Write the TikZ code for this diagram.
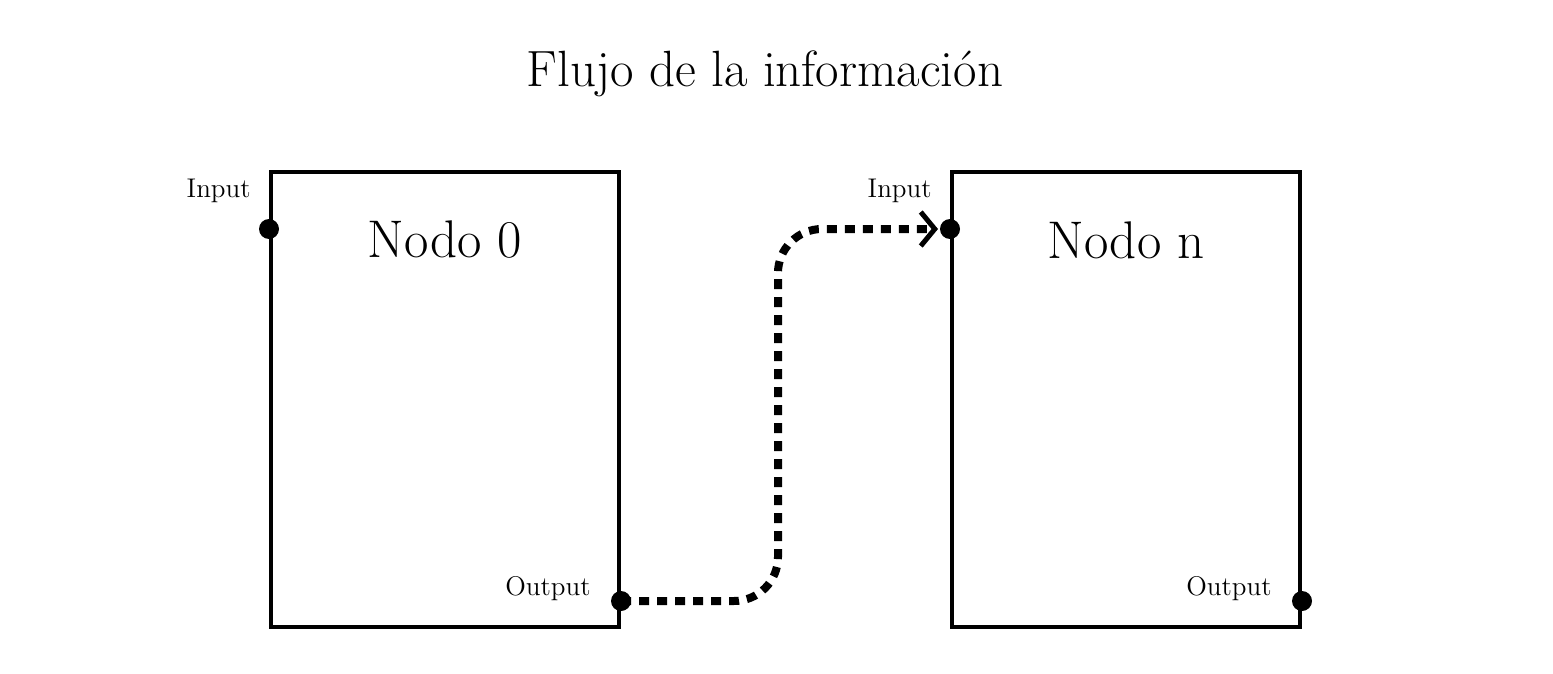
\documentclass[tikz,border=0pt]{standalone}
\usetikzlibrary{calc,arrows.meta}

\tikzset{
  caja/.style={draw,line width=2pt,minimum width=174pt,minimum height=227.5pt,inner sep=0pt},
  punto/.style={fill,circle,inner sep=0pt,minimum size=10pt},
  etiq/.style={font=\fontsize{13.5}{15}\selectfont,inner sep=0pt},
  flujo/.style={line width=4pt,dash pattern=on 5pt off 4pt,rounded corners=22pt,
    -{Straight Barb[length=7pt,width=17pt,line width=2.5pt]}}
}

\begin{document}
\begin{tikzpicture}[x=0.5pt,y=-0.5pt]

\useasboundingbox (0,0) rectangle (1553,674);

\node (titulo) at (765,74) {\fontsize{25.5}{30}\selectfont Flujo de la información};

\begin{scope}

\node[caja] (n0) at (445,399.5) {};
\node[caja] (nn) at (1126,399.5) {};

\node (t0) at ($(n0.north)+(0,-35pt)$) {\fontsize{26.5}{30}\selectfont Nodo 0};
\node (tn) at ($(nn.north)+(0,-35pt)$) {\fontsize{26.5}{30}\selectfont Nodo n};

\coordinate (in0) at ([yshift=-29.5pt]n0.north west);
\coordinate (out0) at ([yshift=14pt]n0.south east);
\coordinate (inn) at ([yshift=-29.5pt]nn.north west);
\coordinate (outn) at ([yshift=14pt]nn.south east);

\node[etiq,anchor=base east] (lin0) at ($(in0)+(-9pt,15.5pt)$) {Input};
\node[etiq,anchor=base east] (lout0) at ($(out0)+(-15pt,3pt)$) {Output};
\node[etiq,anchor=base east] (linn) at ($(inn)+(-9pt,15.5pt)$) {Input};
\node[etiq,anchor=base east] (loutn) at ($(outn)+(-15pt,3pt)$) {Output};

\end{scope}

% flujo entre nodos
\coordinate (giro) at (778,400);
\draw[flujo] (out0) -| (giro) |- ([xshift=-6pt]inn);

\foreach \p in {in0,out0,inn,outn}
  \node[punto] at (\p) {};

\end{tikzpicture}
\end{document}
